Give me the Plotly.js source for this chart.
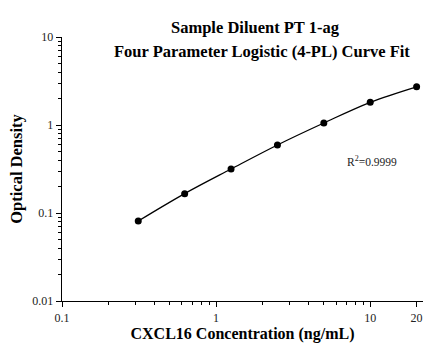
<!DOCTYPE html>
<html><head><meta charset="utf-8">
<script src="https://cdn.plot.ly/plotly-3.0.1.min.js"></script>
<style>html,body{margin:0;padding:0;background:#fff}#chart{width:435px;height:354px}</style>
</head><body><div id="chart"></div>
<script>
const concentration = [0.3125, 0.625, 1.25, 2.5, 5, 10, 20];
const opticalDensity = [0.081, 0.166, 0.316, 0.593, 1.054, 1.81, 2.72];
const xTickVals = [0.1, 1, 10, 20];
const xTickText = ['0.1', '1', '10', '20'];
const yTickVals = [0.01, 0.1, 1, 10];
const yTickText = ['0.01', '0.1', '1', '10'];
const titleLines = ['Sample Diluent PT 1-ag', 'Four Parameter Logistic (4-PL) Curve Fit'];
const r2Text = 'R<sup>2</sup>=0.9999';

const font = 'Times New Roman, Liberation Serif, serif';
const traces = [
  {x: concentration, y: opticalDensity, type: 'scatter', mode: 'lines',
   line: {shape: 'spline', color: '#000', width: 1.3}, hoverinfo: 'skip'},
  {x: concentration, y: opticalDensity, type: 'scatter', mode: 'markers',
   marker: {color: '#000', size: 7}}
];
const axisCommon = {type: 'log', showgrid: false, zeroline: false, showline: true,
  linecolor: '#000', linewidth: 1.3, ticks: 'outside', ticklen: 5, tickcolor: '#000',
  tickfont: {family: font, size: 12, color: '#222'}, tickmode: 'array',
  minor: {ticks: 'outside', ticklen: 3, tickcolor: '#000', showgrid: false, dtick: 'D1'}};
const layout = {
  width: 435, height: 354, showlegend: false,
  paper_bgcolor: '#fff', plot_bgcolor: '#fff',
  margin: {l: 62, r: 12, t: 37, b: 53},
  font: {family: font, color: '#000'},
  xaxis: Object.assign({}, axisCommon, {range: [-1, Math.log10(22)], tickvals: xTickVals, ticktext: xTickText,
    title: {text: '<b>CXCL16 Concentration (ng/mL)</b>', font: {family: font, size: 16, color: '#000'}, standoff: 2}}),
  yaxis: Object.assign({}, axisCommon, {range: [-2, 1], tickvals: yTickVals, ticktext: yTickText,
    title: {text: '<b>Optical Density</b>', font: {family: font, size: 16.5, color: '#000'}, standoff: 5}}),
  annotations: [
    {xref: 'paper', yref: 'paper', x: (255-62)/361, y: (354-28-53)/264, xanchor: 'center', yanchor: 'middle',
     text: '<b>' + titleLines[0] + '</b>', showarrow: false, font: {family: font, size: 16.5, color: '#000'}},
    {xref: 'paper', yref: 'paper', x: (262-62)/361, y: (354-52-53)/264, xanchor: 'center', yanchor: 'middle',
     text: '<b>' + titleLines[1] + '</b>', showarrow: false, font: {family: font, size: 16.5, color: '#000'}},
    {xref: 'paper', yref: 'paper', x: (372-62)/361, y: (354-161-53)/264, xanchor: 'center', yanchor: 'middle',
     text: r2Text, showarrow: false, font: {family: font, size: 11.5, color: '#222'}}
  ]
};
Plotly.newPlot('chart', traces, layout, {displayModeBar: false, staticPlot: true});
</script></body></html>
